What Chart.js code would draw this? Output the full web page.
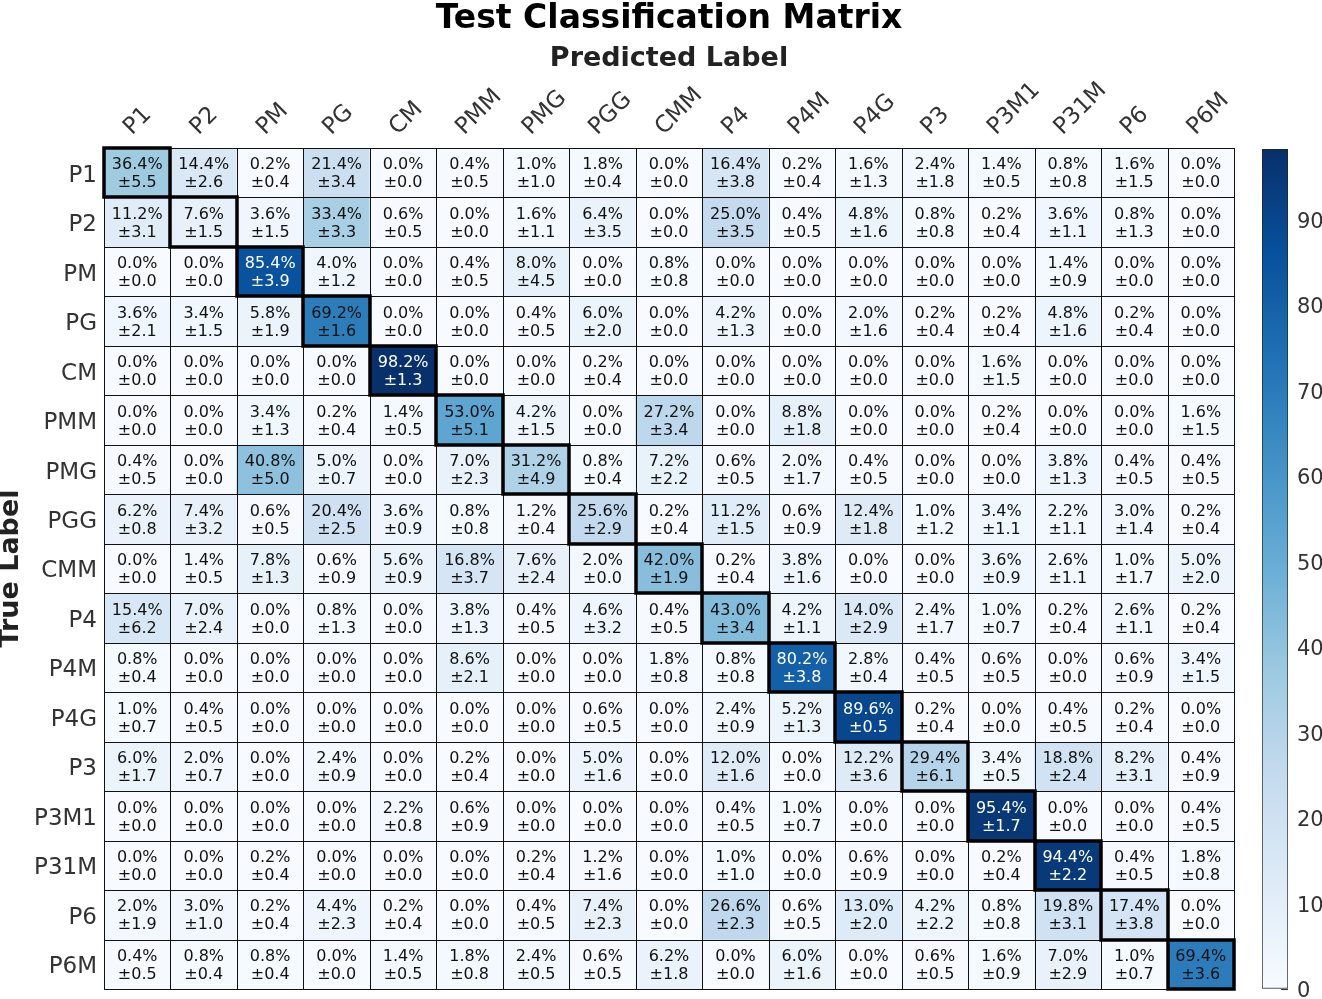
<!DOCTYPE html>
<html>
<head>
<meta charset="utf-8">
<title>Test Classification Matrix</title>
<script src="https://cdn.jsdelivr.net/npm/chart.js@4.4.1/dist/chart.umd.min.js"></script>
<style>
  body { margin: 0; background: #fff; }
  #wrap { position: relative; width: 1322px; height: 999px; }
  #matrix { position: absolute; left: 0; top: 0; }
  #colorbar { position: absolute; left: 1240px; top: 0; }
</style>
</head>
<body>
<div id="wrap">
  <canvas id="matrix" width="1322" height="999"></canvas>
  <canvas id="colorbar" width="82" height="999"></canvas>
</div>
<script>
// class names, used for both predicted (columns) and true (rows) labels
const classLabels = ['P1', 'P2', 'PM', 'PG', 'CM', 'PMM', 'PMG', 'PGG', 'CMM',
                     'P4', 'P4M', 'P4G', 'P3', 'P3M1', 'P31M', 'P6', 'P6M'];

// mean accuracy in %, one row per true label
const meanPct = [
  [36.4, 14.4, 0.2, 21.4, 0.0, 0.4, 1.0, 1.8, 0.0, 16.4, 0.2, 1.6, 2.4, 1.4, 0.8, 1.6, 0.0],
  [11.2, 7.6, 3.6, 33.4, 0.6, 0.0, 1.6, 6.4, 0.0, 25.0, 0.4, 4.8, 0.8, 0.2, 3.6, 0.8, 0.0],
  [0.0, 0.0, 85.4, 4.0, 0.0, 0.4, 8.0, 0.0, 0.8, 0.0, 0.0, 0.0, 0.0, 0.0, 1.4, 0.0, 0.0],
  [3.6, 3.4, 5.8, 69.2, 0.0, 0.0, 0.4, 6.0, 0.0, 4.2, 0.0, 2.0, 0.2, 0.2, 4.8, 0.2, 0.0],
  [0.0, 0.0, 0.0, 0.0, 98.2, 0.0, 0.0, 0.2, 0.0, 0.0, 0.0, 0.0, 0.0, 1.6, 0.0, 0.0, 0.0],
  [0.0, 0.0, 3.4, 0.2, 1.4, 53.0, 4.2, 0.0, 27.2, 0.0, 8.8, 0.0, 0.0, 0.2, 0.0, 0.0, 1.6],
  [0.4, 0.0, 40.8, 5.0, 0.0, 7.0, 31.2, 0.8, 7.2, 0.6, 2.0, 0.4, 0.0, 0.0, 3.8, 0.4, 0.4],
  [6.2, 7.4, 0.6, 20.4, 3.6, 0.8, 1.2, 25.6, 0.2, 11.2, 0.6, 12.4, 1.0, 3.4, 2.2, 3.0, 0.2],
  [0.0, 1.4, 7.8, 0.6, 5.6, 16.8, 7.6, 2.0, 42.0, 0.2, 3.8, 0.0, 0.0, 3.6, 2.6, 1.0, 5.0],
  [15.4, 7.0, 0.0, 0.8, 0.0, 3.8, 0.4, 4.6, 0.4, 43.0, 4.2, 14.0, 2.4, 1.0, 0.2, 2.6, 0.2],
  [0.8, 0.0, 0.0, 0.0, 0.0, 8.6, 0.0, 0.0, 1.8, 0.8, 80.2, 2.8, 0.4, 0.6, 0.0, 0.6, 3.4],
  [1.0, 0.4, 0.0, 0.0, 0.0, 0.0, 0.0, 0.6, 0.0, 2.4, 5.2, 89.6, 0.2, 0.0, 0.4, 0.2, 0.0],
  [6.0, 2.0, 0.0, 2.4, 0.0, 0.2, 0.0, 5.0, 0.0, 12.0, 0.0, 12.2, 29.4, 3.4, 18.8, 8.2, 0.4],
  [0.0, 0.0, 0.0, 0.0, 2.2, 0.6, 0.0, 0.0, 0.0, 0.4, 1.0, 0.0, 0.0, 95.4, 0.0, 0.0, 0.4],
  [0.0, 0.0, 0.2, 0.0, 0.0, 0.0, 0.2, 1.2, 0.0, 1.0, 0.0, 0.6, 0.0, 0.2, 94.4, 0.4, 1.8],
  [2.0, 3.0, 0.2, 4.4, 0.2, 0.0, 0.4, 7.4, 0.0, 26.6, 0.6, 13.0, 4.2, 0.8, 19.8, 17.4, 0.0],
  [0.4, 0.8, 0.8, 0.0, 1.4, 1.8, 2.4, 0.6, 6.2, 0.0, 6.0, 0.0, 0.6, 1.6, 7.0, 1.0, 69.4]
];

// standard deviation in %, same layout
const stdPct = [
  [5.5, 2.6, 0.4, 3.4, 0.0, 0.5, 1.0, 0.4, 0.0, 3.8, 0.4, 1.3, 1.8, 0.5, 0.8, 1.5, 0.0],
  [3.1, 1.5, 1.5, 3.3, 0.5, 0.0, 1.1, 3.5, 0.0, 3.5, 0.5, 1.6, 0.8, 0.4, 1.1, 1.3, 0.0],
  [0.0, 0.0, 3.9, 1.2, 0.0, 0.5, 4.5, 0.0, 0.8, 0.0, 0.0, 0.0, 0.0, 0.0, 0.9, 0.0, 0.0],
  [2.1, 1.5, 1.9, 1.6, 0.0, 0.0, 0.5, 2.0, 0.0, 1.3, 0.0, 1.6, 0.4, 0.4, 1.6, 0.4, 0.0],
  [0.0, 0.0, 0.0, 0.0, 1.3, 0.0, 0.0, 0.4, 0.0, 0.0, 0.0, 0.0, 0.0, 1.5, 0.0, 0.0, 0.0],
  [0.0, 0.0, 1.3, 0.4, 0.5, 5.1, 1.5, 0.0, 3.4, 0.0, 1.8, 0.0, 0.0, 0.4, 0.0, 0.0, 1.5],
  [0.5, 0.0, 5.0, 0.7, 0.0, 2.3, 4.9, 0.4, 2.2, 0.5, 1.7, 0.5, 0.0, 0.0, 1.3, 0.5, 0.5],
  [0.8, 3.2, 0.5, 2.5, 0.9, 0.8, 0.4, 2.9, 0.4, 1.5, 0.9, 1.8, 1.2, 1.1, 1.1, 1.4, 0.4],
  [0.0, 0.5, 1.3, 0.9, 0.9, 3.7, 2.4, 0.0, 1.9, 0.4, 1.6, 0.0, 0.0, 0.9, 1.1, 1.7, 2.0],
  [6.2, 2.4, 0.0, 1.3, 0.0, 1.3, 0.5, 3.2, 0.5, 3.4, 1.1, 2.9, 1.7, 0.7, 0.4, 1.1, 0.4],
  [0.4, 0.0, 0.0, 0.0, 0.0, 2.1, 0.0, 0.0, 0.8, 0.8, 3.8, 0.4, 0.5, 0.5, 0.0, 0.9, 1.5],
  [0.7, 0.5, 0.0, 0.0, 0.0, 0.0, 0.0, 0.5, 0.0, 0.9, 1.3, 0.5, 0.4, 0.0, 0.5, 0.4, 0.0],
  [1.7, 0.7, 0.0, 0.9, 0.0, 0.4, 0.0, 1.6, 0.0, 1.6, 0.0, 3.6, 6.1, 0.5, 2.4, 3.1, 0.9],
  [0.0, 0.0, 0.0, 0.0, 0.8, 0.9, 0.0, 0.0, 0.0, 0.5, 0.7, 0.0, 0.0, 1.7, 0.0, 0.0, 0.5],
  [0.0, 0.0, 0.4, 0.0, 0.0, 0.0, 0.4, 1.6, 0.0, 1.0, 0.0, 0.9, 0.0, 0.4, 2.2, 0.5, 0.8],
  [1.9, 1.0, 0.4, 2.3, 0.4, 0.0, 0.5, 2.3, 0.0, 2.3, 0.5, 2.0, 2.2, 0.8, 3.1, 3.8, 0.0],
  [0.5, 0.4, 0.4, 0.0, 0.5, 0.8, 0.5, 0.5, 1.8, 0.0, 1.6, 0.0, 0.5, 0.9, 2.9, 0.7, 3.6]
];

const colorbarTicks = [0, 10, 20, 30, 40, 50, 60, 70, 80, 90];

// matplotlib "Blues"
const blueStops = ['#f7fbff', '#deebf7', '#c6dbef', '#9ecae1', '#6baed6',
                   '#4292c6', '#2171b5', '#08519c', '#08306b'];

const vmax = Math.max(...meanPct.map(r => Math.max(...r)));

Chart.defaults.font.family = "'DejaVu Sans', sans-serif";

function hexToRgb(h) {
  return [parseInt(h.slice(1, 3), 16), parseInt(h.slice(3, 5), 16), parseInt(h.slice(5, 7), 16)];
}

function blues(v) {
  let t = Math.min(Math.max(v / vmax, 0), 1) * (blueStops.length - 1);
  const i = Math.min(Math.floor(t), blueStops.length - 2);
  const f = t - i;
  const a = hexToRgb(blueStops[i]), b = hexToRgb(blueStops[i + 1]);
  const c = a.map((x, k) => Math.round(x + (b[k] - x) * f));
  return `rgb(${c[0]},${c[1]},${c[2]})`;
}

// one floating-bar dataset per true label row
const datasets = classLabels.map((rowName, i) => ({
  label: rowName,
  data: classLabels.map(() => [i - 0.5, i + 0.5]),
  backgroundColor: meanPct[i].map(v => blues(v)),
  borderWidth: 0,
  grouped: false,
  categoryPercentage: 1.0,
  barPercentage: 1.0
}));

// grid lines, diagonal boxes and the cell texts
const cellPlugin = {
  id: 'cellPlugin',
  afterDatasetsDraw(chart) {
    const ctx = chart.ctx;
    const boxes = [];
    chart.data.datasets.forEach((ds, i) => {
      chart.getDatasetMeta(i).data.forEach((bar, j) => {
        const p = bar.getProps(['x', 'y', 'base', 'width'], true);
        const l = Math.round(p.x - p.width / 2), r = Math.round(p.x + p.width / 2);
        const t = Math.round(Math.min(p.y, p.base)), b = Math.round(Math.max(p.y, p.base));
        boxes.push({ i, j, l, r, t, b, cx: p.x, cy: (p.y + p.base) / 2 });
      });
    });

    ctx.save();
    ctx.lineWidth = 1;
    ctx.strokeStyle = '#111';
    boxes.forEach(c => ctx.strokeRect(c.l + 0.5, c.t + 0.5, c.r - c.l, c.b - c.t));

    ctx.lineWidth = 3.5;
    ctx.strokeStyle = '#000';
    boxes.filter(c => c.i === c.j).forEach(c => ctx.strokeRect(c.l, c.t, c.r - c.l, c.b - c.t));

    ctx.font = "16px 'DejaVu Sans', sans-serif";
    ctx.textAlign = 'center';
    ctx.textBaseline = 'middle';
    boxes.forEach(c => {
      const v = meanPct[c.i][c.j];
      ctx.fillStyle = v > 75 ? '#ffffff' : '#111111';
      ctx.fillText(v.toFixed(1) + '%', c.cx, c.cy - 7.5);
      ctx.fillText('\u00b1' + stdPct[c.i][c.j].toFixed(1), c.cx, c.cy + 10.5);
    });
    ctx.restore();
  }
};

new Chart(document.getElementById('matrix'), {
  type: 'bar',
  data: { labels: classLabels, datasets: datasets },
  plugins: [cellPlugin],
  options: {
    responsive: false,
    animation: false,
    layout: { padding: { top: 0, left: 0, right: 88, bottom: 10 } },
    plugins: {
      legend: { display: false },
      tooltip: { enabled: false },
      title: {
        display: true,
        fullSize: false,
        text: 'Test Classification Matrix',
        color: '#000',
        font: { size: 33, weight: 'bold', lineHeight: 0.9 },
        padding: { top: 5, bottom: 0 }
      }
    },
    scales: {
      x: {
        type: 'category',
        position: 'top',
        offset: true,
        grid: { display: false, drawTicks: false },
        border: { display: false },
        ticks: {
          color: '#333',
          font: { size: 23 },
          minRotation: 45,
          maxRotation: 45,
          autoSkip: false,
          padding: 7,
          labelOffset: 10
        },
        title: {
          display: true,
          text: 'Predicted Label',
          color: '#222',
          font: { size: 27, weight: 'bold', lineHeight: 1.2 },
          padding: { top: 8, bottom: 0 }
        },
        afterFit(scale) { scale.height = 148 - 34.7; }
      },
      y: {
        type: 'linear',
        min: -0.5,
        max: classLabels.length - 0.5,
        reverse: true,
        grid: { display: false, drawTicks: false },
        border: { display: false },
        afterBuildTicks(scale) {
          scale.ticks = classLabels.map((_, i) => ({ value: i }));
        },
        ticks: {
          color: '#333',
          font: { size: 23 },
          padding: 7,
          labelOffset: 3,
          autoSkip: false,
          callback: (v) => classLabels[v]
        },
        title: {
          display: true,
          text: 'True Label',
          color: '#222',
          font: { size: 27, weight: 'bold', lineHeight: 0.85 },
          padding: 0
        },
        afterFit(scale) {
          scale.width = 104;
          scale.paddingTop = 0;
          scale.paddingBottom = 0;
        }
      }
    }
  }
});

// colour bar: a single floating bar filled with the Blues gradient
new Chart(document.getElementById('colorbar'), {
  type: 'bar',
  data: {
    labels: ['scale'],
    datasets: [{
      data: [[0, vmax]],
      backgroundColor(c) {
        const area = c.chart.chartArea;
        if (!area) return blueStops[0];
        const g = c.chart.ctx.createLinearGradient(0, area.bottom, 0, area.top);
        blueStops.forEach((col, k) => g.addColorStop(k / (blueStops.length - 1), col));
        return g;
      },
      borderColor: '#222',
      borderWidth: 1,
      borderSkipped: false,
      categoryPercentage: 1.0,
      barPercentage: 1.0
    }]
  },
  options: {
    responsive: false,
    animation: false,
    layout: { padding: { top: 149, left: 22, right: 0, bottom: 10 } },
    plugins: { legend: { display: false }, tooltip: { enabled: false } },
    scales: {
      x: { display: false, offset: true },
      y: {
        position: 'right',
        min: 0,
        max: vmax,
        z: 1,
        afterBuildTicks(scale) {
          scale.ticks = colorbarTicks.map(v => ({ value: v }));
        },
        grid: { drawOnChartArea: false, drawTicks: true, tickLength: -7, color: '#333' },
        border: { display: false },
        ticks: { color: '#333', font: { size: 21 }, padding: 16, labelOffset: 3 },
        afterFit(scale) {
          scale.width = 34;
          scale.paddingTop = 0;
          scale.paddingBottom = 0;
        }
      }
    }
  }
});
</script>
</body>
</html>
